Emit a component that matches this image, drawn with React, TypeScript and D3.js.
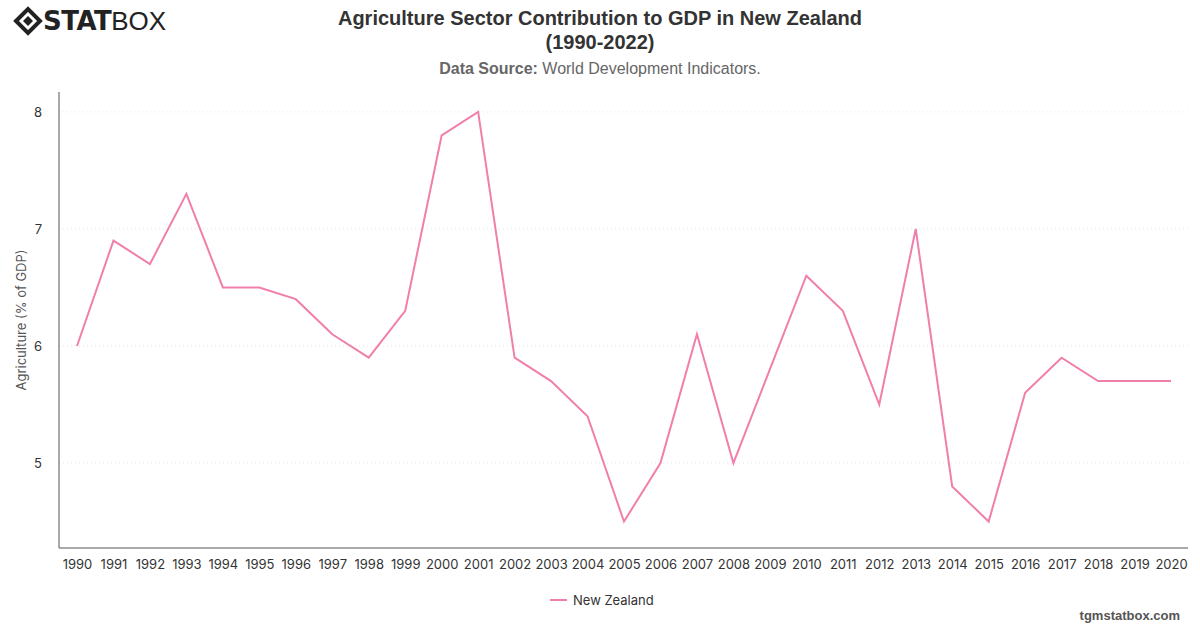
import React, { useEffect, useRef } from 'react';
import * as d3 from 'd3';

const years = [
  1990, 1991, 1992, 1993, 1994, 1995, 1996, 1997, 1998, 1999, 2000, 2001, 2002, 2003, 2004, 2005,
  2006, 2007, 2008, 2009, 2010, 2011, 2012, 2013, 2014, 2015, 2016, 2017, 2018, 2019, 2020,
];
const nzValues = [
  6.0, 6.9, 6.7, 7.3, 6.5, 6.5, 6.4, 6.1, 5.9, 6.3, 7.8, 8.0, 5.9, 5.7, 5.4, 4.5,
  5.0, 6.1, 5.0, 5.8, 6.6, 6.3, 5.5, 7.0, 4.8, 4.5, 5.6, 5.9, 5.7, 5.7, 5.7,
];
const yTicks = [5, 6, 7, 8];
const seriesName = 'New Zealand';

const W = 1200;
const H = 628;
const LINE = '#f07fab';
const FONT = 'Inter, "Liberation Sans", Arial, sans-serif';

export default function App() {
  const ref = useRef<SVGSVGElement | null>(null);

  useEffect(() => {
    if (!ref.current) return;
    const svg = d3.select(ref.current);
    svg.selectAll('*').remove();

    const left = 59;
    const right = 1188;
    const top = 92;
    const bottom = 548;

    const x = d3.scalePoint<number>().domain(years).range([77, 1171]);
    const y = d3.scaleLinear().domain([4.274, 8.17]).range([bottom, top]);

    // grid
    svg
      .append('g')
      .selectAll('line')
      .data(yTicks)
      .join('line')
      .attr('x1', left)
      .attr('x2', right)
      .attr('y1', (d) => y(d))
      .attr('y2', (d) => y(d))
      .attr('stroke', '#e6e6e6')
      .attr('stroke-dasharray', '1,3');

    // y axis
    const yAxis = svg
      .append('g')
      .attr('transform', `translate(${left},0)`)
      .call(d3.axisLeft(y).tickValues(yTicks).tickSize(0).tickPadding(17).tickFormat(d3.format('d')));
    yAxis.select('.domain').attr('stroke', '#555').attr('d', `M0,${top}V${bottom}`);
    yAxis.selectAll('text').attr('font-family', FONT).attr('font-size', 13).attr('fill', '#333');

    // x axis
    const xAxis = svg
      .append('g')
      .attr('transform', `translate(0,${bottom})`)
      .call(d3.axisBottom(x).tickSize(0).tickPadding(12).tickFormat(d3.format('d')));
    xAxis.select('.domain').attr('stroke', '#555').attr('d', `M${left},0H${right}`);
    xAxis.selectAll('text').attr('font-family', FONT).attr('font-size', 13).attr('fill', '#333');

    // line
    svg
      .append('path')
      .datum(nzValues)
      .attr('fill', 'none')
      .attr('stroke', LINE)
      .attr('stroke-width', 2)
      .attr('stroke-linejoin', 'miter')
      .attr(
        'd',
        d3
          .line<number>()
          .x((_, i) => x(years[i]) as number)
          .y((d) => y(d)),
      );

    // y label
    svg
      .append('text')
      .attr('transform', `translate(26,${(top + bottom) / 2}) rotate(-90)`)
      .attr('text-anchor', 'middle')
      .attr('font-family', FONT)
      .attr('font-size', 13)
      .attr('fill', '#555')
      .text('Agriculture (% of GDP)');

    // title
    const title = svg
      .append('text')
      .attr('text-anchor', 'middle')
      .attr('font-family', '"Liberation Sans", Arial, sans-serif')
      .attr('font-size', 20)
      .attr('font-weight', 'bold')
      .attr('fill', '#333');
    title.append('tspan').attr('x', 600).attr('y', 25).text('Agriculture Sector Contribution to GDP in New Zealand');
    title.append('tspan').attr('x', 600).attr('y', 49).text('(1990-2022)');

    const sub = svg
      .append('text')
      .attr('x', 600)
      .attr('y', 74)
      .attr('text-anchor', 'middle')
      .attr('font-family', '"Liberation Sans", Arial, sans-serif')
      .attr('font-size', 16)
      .attr('fill', '#666');
    sub.append('tspan').attr('font-weight', 'bold').text('Data Source: ');
    sub.append('tspan').text('World Development Indicators.');

    // legend
    svg
      .append('line')
      .attr('x1', 550)
      .attr('x2', 567)
      .attr('y1', 600)
      .attr('y2', 600)
      .attr('stroke', LINE)
      .attr('stroke-width', 2);
    svg
      .append('text')
      .attr('x', 573)
      .attr('y', 605)
      .attr('font-family', FONT)
      .attr('font-size', 13)
      .attr('fill', '#333')
      .text(seriesName);

    svg
      .append('text')
      .attr('x', 1180)
      .attr('y', 620)
      .attr('text-anchor', 'end')
      .attr('font-family', '"Liberation Sans", Arial, sans-serif')
      .attr('font-size', 13)
      .attr('font-weight', 'bold')
      .attr('fill', '#555')
      .text('tgmstatbox.com');

    // logo
    const logo = svg.append('g').attr('transform', 'translate(28,21)');
    logo
      .append('path')
      .attr('d', 'M-12,0 L0,-12 L12,0 L0,12 Z')
      .attr('fill', 'none')
      .attr('stroke', '#222')
      .attr('stroke-width', 4);
    logo.append('path').attr('d', 'M-5,0 L0,-5 L5,0 L0,5 Z').attr('fill', '#222');
    const lt = svg
      .append('text')
      .attr('x', 43)
      .attr('y', 30)
      .attr('font-family', '"DejaVu Sans", Arial, sans-serif')
      .attr('font-size', 26)
      .attr('fill', '#222');
    lt.append('tspan').attr('font-weight', 'bold').attr('letter-spacing', -0.5).text('STAT');
    lt.append('tspan').attr('font-weight', 'normal').attr('font-family', '"Liberation Sans", Arial, sans-serif').text('BOX');
  }, []);

  return <svg ref={ref} width={W} height={H} style={{ display: 'block', position: 'absolute', left: 0, top: 0, background: '#fff' }} />;
}
